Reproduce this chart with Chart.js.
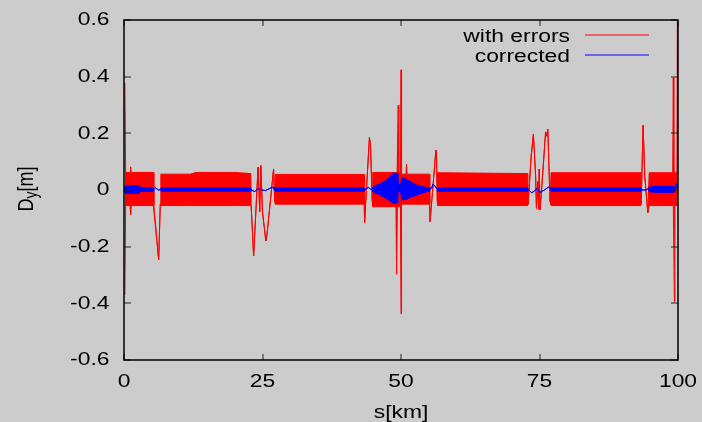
<!DOCTYPE html>
<html>
<head>
<meta charset="utf-8">
<script src="https://cdn.jsdelivr.net/npm/chart.js@4/dist/chart.umd.min.js"></script>
<style>
  html, body { margin: 0; padding: 0; background: #cccccc; }
  canvas { display: block; }
</style>
</head>
<body>
<canvas id="chart" width="702" height="422"></canvas>
<script>
// axis ticks
const xTicks = [0, 25, 50, 75, 100];
const xTickLabels = ['0', '25', '50', '75', '100'];
const yTicks = [-0.6, -0.4, -0.2, 0, 0.2, 0.4, 0.6];
const yTickLabels = ['-0.6', '-0.4', '-0.2', '0', '0.2', '0.4', '0.6'];

// "with errors": s[km], upper and lower edge of the dense trace
const redS = [
  0.15, 0.3, 1.1, 1.2, 1.3, 5.3, 5.4, 6.26, 6.55, 6.65,
  12.0, 13.0, 20.0, 22.9, 22.95, 23.4, 24.2, 24.5, 24.7, 25.0, 25.6, 25.8, 27.0, 27.2, 27.3,
  43.35, 43.4, 43.45, 44.3, 44.5, 44.8, 44.9,
  49.1, 49.2, 49.3, 49.4, 49.5, 49.6, 49.9, 50.0, 50.1, 50.9, 51.0, 51.1,
  55.15, 55.2, 55.25, 56.3, 56.4, 56.55, 56.6,
  72.9, 72.95, 73.5, 73.9, 74.3, 74.45, 74.7, 74.85, 74.95, 75.1, 75.3, 76.1, 76.3, 76.5, 76.9, 77.1,
  93.3, 93.35, 93.7, 94.0, 94.55, 94.8,
  99.05, 99.15, 99.25, 99.35, 99.45, 99.8, 99.9, 100
];
const redTop = [
  0.378, 0.062, 0.062, 0.082, 0.062, 0.062, -0.055, -0.247, -0.05, 0.056,
  0.056, 0.062, 0.062, 0.058, -0.055, -0.233, 0.08, -0.077, 0.086, -0.077, -0.18, -0.16, 0.074, -0.04, 0.055,
  0.055, -0.05, -0.114, 0.185, 0.16, -0.04, 0.062,
  0.062, 0.062, 0.062, 0.062, 0.30, 0.062, 0.062, 0.424, 0.056, 0.056, 0.092, 0.056,
  0.056, -0.05, -0.112, 0.141, 0.135, -0.04, 0.061,
  0.058, -0.05, 0.12, 0.197, 0.05, -0.065, 0.03, -0.068, 0.074, -0.07, -0.02, 0.205, 0.19, 0.214, -0.04, 0.061,
  0.061, -0.05, 0.228, 0.05, -0.08, 0.061,
  0.061, 0.396, 0.061, 0.061, 0.061, 0.061, 0.7, 0.02
];
const redBottom = [
  -0.37, -0.055, -0.055, -0.088, -0.055, -0.055, -0.055, -0.247, -0.05, -0.055,
  -0.055, -0.055, -0.055, -0.055, -0.055, -0.233, 0.08, -0.077, 0.086, -0.077, -0.18, -0.16, 0.074, -0.04, -0.05,
  -0.05, -0.05, -0.114, 0.185, 0.16, -0.04, -0.059,
  -0.059, -0.297, -0.059, -0.059, -0.059, -0.059, -0.059, -0.437, -0.05, -0.05, -0.05, -0.05,
  -0.05, -0.05, -0.112, 0.141, 0.135, -0.04, -0.055,
  -0.055, -0.05, 0.12, 0.197, 0.05, -0.065, 0.03, -0.068, 0.074, -0.07, -0.02, 0.205, 0.19, 0.214, -0.04, -0.055,
  -0.055, -0.05, 0.228, 0.05, -0.08, -0.055,
  -0.055, -0.055, -0.055, -0.394, -0.055, -0.055, -0.05, 0.02
];

// "corrected": s[km], upper and lower edge
const blueS = [
  0.0, 0.2, 2.5, 3.0, 5.3, 5.4, 5.7, 6.2, 6.6, 6.7,
  22.9, 23.0, 23.6, 24.2, 24.8, 25.5, 26.8, 27.3,
  43.4, 43.5, 44.1, 44.5, 44.8, 45.0, 46.0, 46.8, 48.0, 48.6, 49.3, 49.45, 49.9, 50.2,
  51.0, 51.6, 52.8, 54.3, 55.1, 55.2, 55.5, 55.8, 56.2, 56.5, 56.6,
  72.9, 73.0, 73.6, 74.3, 74.5, 75.1, 75.9, 76.6, 77.0, 77.1,
  93.3, 93.4, 94.3, 94.6, 94.8, 96.0, 99.2, 99.5, 99.8, 100
];
const blueTop = [
  0.007, 0.014, 0.016, 0.01, 0.007, 0.004, 0.008, 0.0, 0.002, 0.007,
  0.007, 0.0, -0.006, 0.006, 0.0, -0.002, 0.01, 0.007,
  0.007, 0.002, 0.009, 0.003, 0.002, 0.012, 0.02, 0.028, 0.045, 0.06, 0.058, 0.02, 0.02, 0.042,
  0.038, 0.03, 0.018, 0.01, 0.008, 0.004, 0.006, 0.021, 0.012, 0.004, 0.007,
  0.007, 0.002, -0.01, 0.0, 0.006, -0.008, 0.0, 0.01, 0.006, 0.007,
  0.007, 0.0, 0.0, 0.006, 0.01, 0.013, 0.013, 0.01, 0.024, 0.02
];
const blueBottom = [
  0.007, -0.012, -0.012, -0.006, -0.004, 0.004, 0.008, 0.0, 0.002, -0.004,
  -0.004, 0.0, -0.006, 0.006, 0.0, -0.002, 0.01, -0.004,
  -0.004, 0.002, 0.009, 0.003, 0.002, -0.008, -0.015, -0.024, -0.038, -0.048, -0.045, -0.006, -0.006, -0.035,
  -0.033, -0.026, -0.018, -0.008, -0.004, 0.004, 0.006, 0.021, 0.012, 0.004, -0.004,
  -0.004, 0.002, -0.01, 0.0, 0.006, -0.008, 0.0, 0.01, 0.006, -0.004,
  -0.004, 0.0, 0.0, 0.006, -0.006, -0.008, -0.008, -0.004, 0.024, 0.02
];

const SX = 1.27; // picture is horizontally stretched
const FONT = '18px "Liberation Sans", Arial, sans-serif';
const FONT_SUB = '14px "Liberation Sans", Arial, sans-serif';

function pts(xs, ys) {
  return xs.map((x, i) => ({ x: x, y: ys[i] }));
}

function drawText(ctx, str, x, y, align, baseline, font) {
  ctx.save();
  ctx.translate(x, y);
  ctx.scale(SX, 1);
  ctx.font = font || FONT;
  ctx.fillStyle = '#000000';
  ctx.textAlign = align;
  ctx.textBaseline = baseline;
  ctx.fillText(str, 0, 0);
  ctx.restore();
}

const decorations = {
  id: 'decorations',
  beforeDraw(chart) {
    const ctx = chart.ctx;
    ctx.save();
    ctx.fillStyle = '#cccccc';
    ctx.fillRect(0, 0, chart.width, chart.height);
    ctx.restore();
  },
  afterDraw(chart) {
    const ctx = chart.ctx;
    const area = chart.chartArea;
    const xs = chart.scales.x;
    const ys = chart.scales.y;

    // tick marks, inward and mirrored
    ctx.save();
    ctx.strokeStyle = '#222222';
    ctx.lineWidth = 1;
    ctx.beginPath();
    xs.ticks.forEach(t => {
      const px = Math.round(xs.getPixelForValue(t.value));
      ctx.moveTo(px, area.bottom); ctx.lineTo(px, area.bottom - 6);
      ctx.moveTo(px, area.top); ctx.lineTo(px, area.top + 6);
    });
    ys.ticks.forEach(t => {
      const py = Math.round(ys.getPixelForValue(t.value));
      ctx.moveTo(area.left, py); ctx.lineTo(area.left + 7, py);
      ctx.moveTo(area.right, py); ctx.lineTo(area.right - 7, py);
    });
    ctx.stroke();

    // frame
    ctx.strokeStyle = '#000000';
    ctx.lineWidth = 1.5;
    ctx.strokeRect(area.left, area.top, area.right - area.left, area.bottom - area.top);
    ctx.restore();

    // tick labels
    xs.ticks.forEach((t, i) => {
      drawText(ctx, xTickLabels[i], xs.getPixelForValue(t.value), 387, 'center', 'alphabetic');
    });
    ys.ticks.forEach((t, i) => {
      drawText(ctx, yTickLabels[i], 109.5, ys.getPixelForValue(t.value) + 0.5, 'right', 'middle');
    });

    // axis titles
    drawText(ctx, 's[km]', (area.left + area.right) / 2, 418, 'center', 'alphabetic');

    ctx.save();
    ctx.translate(33, 189);
    ctx.scale(SX, 1);
    ctx.rotate(-Math.PI / 2);
    ctx.fillStyle = '#000000';
    ctx.textBaseline = 'alphabetic';
    ctx.textAlign = 'left';
    ctx.font = FONT;
    const wD = ctx.measureText('D').width;
    const wM = ctx.measureText('[m]').width;
    ctx.font = FONT_SUB;
    const wY = ctx.measureText('y').width;
    let x0 = -(wD + wY + wM) / 2;
    ctx.font = FONT;
    ctx.fillText('D', x0, 0);
    ctx.font = FONT_SUB;
    ctx.fillText('y', x0 + wD, 3);
    ctx.font = FONT;
    ctx.fillText('[m]', x0 + wD + wY, 0);
    ctx.restore();

    // key, in plotting order
    const keyItems = chart.data.datasets.filter(d => d.keyLabel).sort((a, b) => a.keyOrder - b.keyOrder);
    keyItems.forEach((d, i) => {
      const ly = 35 + i * 20;
      drawText(ctx, d.keyLabel, 570, ly + 6.5, 'right', 'alphabetic');
      ctx.save();
      ctx.strokeStyle = d.borderColor;
      ctx.lineWidth = 1;
      ctx.beginPath();
      ctx.moveTo(585, ly);
      ctx.lineTo(649, ly);
      ctx.stroke();
      ctx.restore();
    });
  }
};

const lineStyle = (color) => ({
  borderColor: color,
  backgroundColor: color,
  borderWidth: 1,
  pointRadius: 0,
  tension: 0
});

const config = {
  type: 'line',
  data: {
    datasets: [
      Object.assign({ label: 'corrected lower', data: pts(blueS, blueBottom), fill: false }, lineStyle('#0000ff')),
      Object.assign({ label: 'corrected', keyLabel: 'corrected', keyOrder: 2, data: pts(blueS, blueTop), fill: '-1' }, lineStyle('#0000ff')),
      Object.assign({ label: 'with errors lower', data: pts(redS, redBottom), fill: false }, lineStyle('#ff0000')),
      Object.assign({ label: 'with errors', keyLabel: 'with errors', keyOrder: 1, data: pts(redS, redTop), fill: '-1' }, lineStyle('#ff0000'))
    ]
  },
  options: {
    responsive: false,
    animation: false,
    devicePixelRatio: 1,
    layout: { padding: { top: 20, right: 24, left: 0, bottom: 0 } },
    plugins: {
      legend: { display: false },
      tooltip: { enabled: false },
      title: { display: false }
    },
    scales: {
      x: {
        type: 'linear',
        min: 0,
        max: 100,
        afterBuildTicks: s => { s.ticks = xTicks.map(v => ({ value: v })); },
        afterFit: s => { s.height = 62; },
        ticks: { display: false },
        grid: { display: false, drawTicks: false },
        border: { display: false }
      },
      y: {
        type: 'linear',
        min: -0.6,
        max: 0.6,
        afterBuildTicks: s => { s.ticks = yTicks.map(v => ({ value: v })); },
        afterFit: s => { s.width = 124; },
        ticks: { display: false },
        grid: { display: false, drawTicks: false },
        border: { display: false }
      }
    }
  },
  plugins: [decorations]
};

const chart = new Chart(document.getElementById('chart'), config);
</script>
</body>
</html>
